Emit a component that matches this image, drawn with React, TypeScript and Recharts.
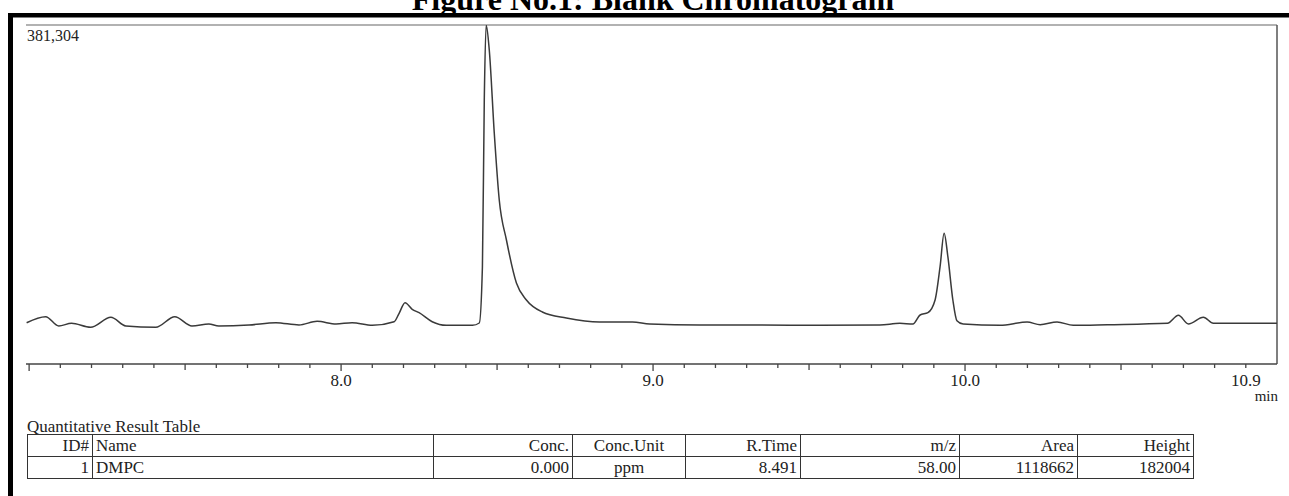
import { LineChart, Line, XAxis, YAxis, ReferenceLine } from "recharts";

// retention time (min) and detector intensity
const times = [
    6.992, 7.053, 7.095, 7.136, 7.197, 7.262, 7.310, 7.406, 7.467, 7.522,
    7.576, 7.608, 7.705, 7.791, 7.865, 7.923, 7.984, 8.035, 8.100, 8.170,
    8.186, 8.205, 8.228, 8.250, 8.292, 8.337, 8.421, 8.443, 8.453, 8.459,
    8.465, 8.475, 8.491, 8.507, 8.530, 8.562, 8.594, 8.645, 8.722, 8.828,
    8.934, 8.989, 9.149, 9.342, 9.535, 9.727, 9.791, 9.833, 9.856, 9.881,
    9.904, 9.920, 9.933, 9.945, 9.961, 9.974, 9.994, 10.112, 10.199, 10.241,
    10.295, 10.347, 10.456, 10.649, 10.684, 10.716, 10.764, 10.796, 10.883, 11.0,
];
const intensities = [
    46454, 53203, 42742, 45779, 41280, 52528, 42742, 41280, 53203, 42742,
    44992, 42742, 43867, 46454, 43867, 48029, 44992, 46454, 43530, 47579,
    57027, 68950, 61527, 57702, 47579, 43530, 43530, 46117, 109106, 296947,
    381304, 353187, 259829, 184467, 139475, 91109, 71987, 58490, 51741, 47242,
    47242, 44992, 43867, 43867, 43530, 43867, 45779, 44992, 55115, 57702,
    71987, 109443, 147011, 120691, 71987, 48704, 44992, 43530, 47242, 44205,
    47242, 43530, 44205, 45779, 54778, 44992, 52528, 45779, 45779, 45779,
];

const tickValues = [
    7.0, 7.1, 7.2, 7.3, 7.4, 7.5, 7.6, 7.7, 7.8, 7.9,
    8.0, 8.1, 8.2, 8.3, 8.4, 8.5, 8.6, 8.7, 8.8, 8.9,
    9.0, 9.1, 9.2, 9.3, 9.4, 9.5, 9.6, 9.7, 9.8, 9.9,
    10.0, 10.1, 10.2, 10.3, 10.4, 10.5, 10.6, 10.7, 10.8, 10.9,
];
const labeledTicks = [8.0, 9.0, 10.0, 10.9];
const tickLabels = ["8.0", "9.0", "10.0", "10.9"];

const yMax = 381304;
const xDomain = [6.99, 11.0];

const tableHeader = ["ID#", "Name", "Conc.", "Conc.Unit", "R.Time", "m/z", "Area", "Height"];
const tableRow = ["1", "DMPC", "0.000", "ppm", "8.491", "58.00", "1118662", "182004"];

const data = times.map((t, i) => ({ t, v: intensities[i] }));

const serif = "'Liberation Serif', 'Times New Roman', serif";
const colWidths = [65, 341, 139, 113, 115, 159, 118, 116];
const colAlign: ("left" | "right" | "center")[] = ["right", "left", "right", "center", "right", "right", "right", "right"];

const AxisTick = (props: any) => {
    const { x, y, payload } = props;
    const v = payload.value as number;
    const whole = Math.abs(v - Math.round(v)) < 1e-6;
    const half = Math.abs(v * 2 - Math.round(v * 2)) < 1e-6;
    const len = whole ? 7 : half ? 6 : 4;
    const idx = labeledTicks.findIndex((l) => Math.abs(l - v) < 1e-6);
    return (
        <g>
            <line x1={x} x2={x} y1={y} y2={y + len} stroke="#444" strokeWidth={1.3} />
            {idx >= 0 && (
                <text x={x} y={y + 22} textAnchor="middle" fontFamily={serif} fontSize={17} fill="#222">
                    {tickLabels[idx]}
                </text>
            )}
        </g>
    );
};

const cell = (align: string, extra: any = {}) => ({
    border: "1.5px solid #333",
    padding: "0 3px",
    height: 21,
    textAlign: align as any,
    whiteSpace: "nowrap" as const,
    overflow: "hidden",
    ...extra,
});

export default function App() {
    return (
        <div style={{ position: "absolute", left: 0, top: 0, width: 1289, height: 496, overflow: "hidden", background: "#fff" }}>
            <div style={{ position: "absolute", left: 0, top: 0 }}>
                <LineChart width={1289} height={420} data={data} margin={{ top: 25, left: 26, right: 12, bottom: 16 }}>
                    <XAxis
                        dataKey="t"
                        type="number"
                        domain={xDomain}
                        ticks={tickValues}
                        interval={0}
                        tick={<AxisTick />}
                        tickLine={false}
                        tickSize={0}
                        tickMargin={0}
                        height={40}
                        allowDataOverflow
                        axisLine={{ stroke: "#444", strokeWidth: 1.5 }}
                    />
                    <YAxis
                        type="number"
                        domain={[0, yMax]}
                        tick={false}
                        tickLine={false}
                        width={0}
                        allowDataOverflow
                        axisLine={{ stroke: "#555", strokeWidth: 1.5 }}
                    />
                    <ReferenceLine y={yMax} stroke="#666" strokeWidth={1.2} />
                    <ReferenceLine x={xDomain[1]} stroke="#555" strokeWidth={1.5} />
                    <Line
                        type="monotone"
                        dataKey="v"
                        stroke="#3a3a3a"
                        strokeWidth={1.5}
                        dot={false}
                        isAnimationActive={false}
                    />
                </LineChart>
            </div>
            <svg width={1289} height={496} style={{ position: "absolute", left: 0, top: 0, pointerEvents: "none" }}>
                <text x={653} y={9.5} textAnchor="middle" fontFamily={serif} fontWeight="bold" fontSize={32} fill="#000">
                    Figure No.1: Blank Chromatogram
                </text>
                <rect x={8} y={13} width={1281} height={4.5} fill="#000" />
                <rect x={8} y={13} width={5} height={483} fill="#000" />
                <text x={27} y={41} fontFamily={serif} fontSize={16} fill="#222">381,304</text>
                <text x={1278} y={401} textAnchor="end" fontFamily={serif} fontSize={15} fill="#222">min</text>
                <text x={27} y={432} fontFamily={serif} fontSize={17} fill="#222">Quantitative Result Table</text>
            </svg>
            <table
                style={{
                    position: "absolute",
                    left: 27,
                    top: 434,
                    borderCollapse: "collapse",
                    tableLayout: "fixed",
                    width: colWidths.reduce((a, b) => a + b, 0),
                    fontFamily: serif,
                    fontSize: 17,
                    color: "#222",
                    lineHeight: "20px",
                }}
            >
                <colgroup>
                    {colWidths.map((w, i) => (
                        <col key={i} style={{ width: w }} />
                    ))}
                </colgroup>
                <tbody>
                    <tr>
                        {tableHeader.map((h, i) => (
                            <td key={i} style={cell(colAlign[i])}>{h}</td>
                        ))}
                    </tr>
                    <tr>
                        {tableRow.map((h, i) => (
                            <td key={i} style={cell(colAlign[i])}>{h}</td>
                        ))}
                    </tr>
                </tbody>
            </table>
        </div>
    );
}
